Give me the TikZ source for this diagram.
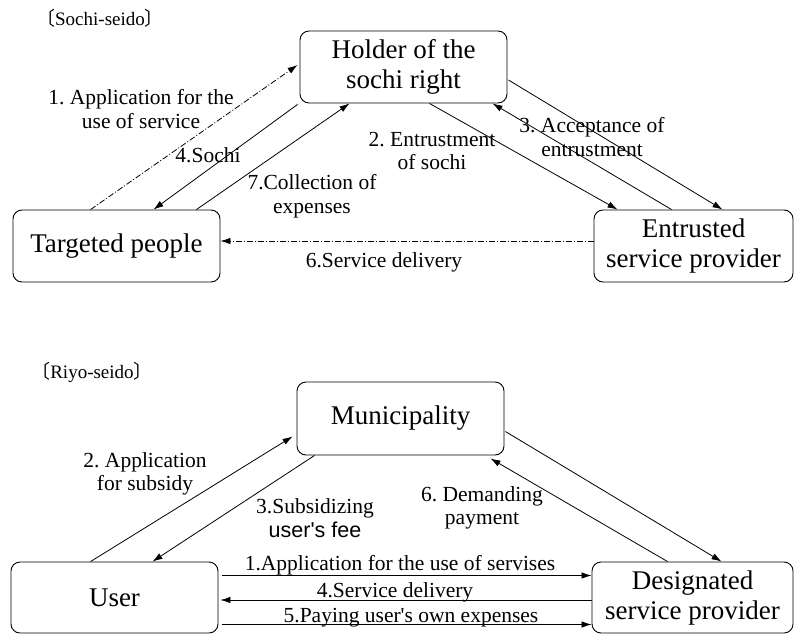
\documentclass[tikz,border=0pt]{standalone}
\usepackage{fontspec}
\setmainfont{Liberation Serif}
\newfontfamily\cjkfont{Noto Sans CJK JP}
\newfontfamily\arialfont{Liberation Sans}
\newfontfamily\qfont{Liberation Serif}
\usetikzlibrary{arrows.meta,calc}
\frenchspacing
\newcommand{\sq}{{\qfont '}}
\begin{document}
\begin{tikzpicture}[x=1pt,y=-1pt,
 box/.style={draw, rounded corners=9pt, line width=0.9pt, inner sep=0pt, align=center, font=\fontsize{27}{30}\selectfont},
 lbl/.style={inner sep=0pt, align=center, font=\fontsize{21.5}{23.5}\selectfont},
 conn/.style={line width=0.8pt, -{Latex[length=10pt,width=6.5pt]}},
 dd/.style={conn, dash pattern=on 6pt off 2pt on 1pt off 2pt},
 head/.style={inner sep=0pt, font=\fontsize{19}{21}\selectfont}]
\useasboundingbox (0,0) rectangle (794,634);
\fill[white] (0,0) rectangle (794,634);
% headings
\node[head] (h1) at (100,18) {{\cjkfont 〔}Sochi-seido{\cjkfont 〕}};
\node[head] (h2) at (92,372) {{\cjkfont 〔}Riyo-seido{\cjkfont 〕}};
% top boxes
\node[box, minimum width=207pt, minimum height=72pt] (hold) at (403.5,67) {Holder of the\\sochi right};
\node[box, minimum width=207pt, minimum height=72pt] (tp) at (116.5,246) {Targeted people};
\node[box, minimum width=199pt, minimum height=72pt] (ep) at (693.5,246) {Entrusted\\service provider};
% top connectors
\draw[dd] ($(tp.north west)+(78,0)$) -- ($(hold.west)+(-2,-2)$);
\draw[conn] ($(hold.south west)+(-2,1)$) -- ($(tp.north)+(37,0)$);
\draw[conn] ($(tp.north east)+(-24,0)$) -- ($(hold.south west)+(50,0)$);
\draw[conn] ($(hold.south)+(26,0)$) -- ($(ep.north west)+(24,0)$);
\draw[conn] ($(ep.north west)+(78,0)$) -- ($(hold.south east)+(-15,0)$);
\draw[conn] ($(hold.east)+(1,13)$) -- ($(ep.north west)+(129,0)$);
\draw[dd] ($(ep.west)+(0,-5)$) -- ($(tp.east)+(0,-5)$);
% top labels
\node[lbl] (l1) at (141,109) {1. Application for the\\use of service};
\node[lbl] (l4) at (208,155) {4.Sochi};
\node[lbl] (l7) at (312,196) {7.Collection of\\expenses};
\node[lbl] (l2) at (432,151) {2. Entrustment\\of sochi};
\node[lbl] (l3) at (592,137) {3. Acceptance of\\entrustment};
\node[lbl, anchor=base] (l6) at (384,267) {6.Service delivery};
% bottom boxes
\node[box, minimum width=207pt, minimum height=73pt] (mun) at (400.5,418.5) {Municipality};
\node[box, minimum width=207pt, minimum height=71pt] (user) at (114.5,597.5) {User};
\node[box, minimum width=201pt, minimum height=71pt] (des) at (692.5,597.5) {Designated\\service provider};
% bottom connectors
\draw[conn] ($(user.north west)+(80,0)$) -- ($(mun.west)+(-4,18)$);
\draw[conn] ($(mun.south west)+(18,0)$) -- ($(user.north)+(38,0)$);
\draw[conn] ($(mun.east)+(1,13)$) -- ($(des.north west)+(130,0)$);
\draw[conn] ($(des.north west)+(76,0)$) -- ($(mun.south east)+(-14,3)$);
\draw[conn] ($(user.east)+(4,-22)$) -- ($(des.west)+(0,-22)$);
\draw[conn] ($(des.west)+(0,2.5)$) -- ($(user.east)+(2,2.5)$);
\draw[conn] ($(user.east)+(4,27)$) -- ($(des.west)+(0,27)$);
% bottom labels
\node[lbl] (m2) at (145,474) {2. Application\\for subsidy};
\node[lbl] (m3) at (315,518) {3.Subsidizing\\{\arialfont user's fee}};
\node[lbl] (m6) at (482,508) {6. Demanding\\payment};
\node[lbl, anchor=base] (m1) at (400,570) {1.Application for the use of servises};
\node[lbl, anchor=base] (m4) at (395,597) {4.Service delivery};
\node[lbl, anchor=base] (m5) at (411,622) {5.Paying user\sq s own expenses};
\end{tikzpicture}
\end{document}
